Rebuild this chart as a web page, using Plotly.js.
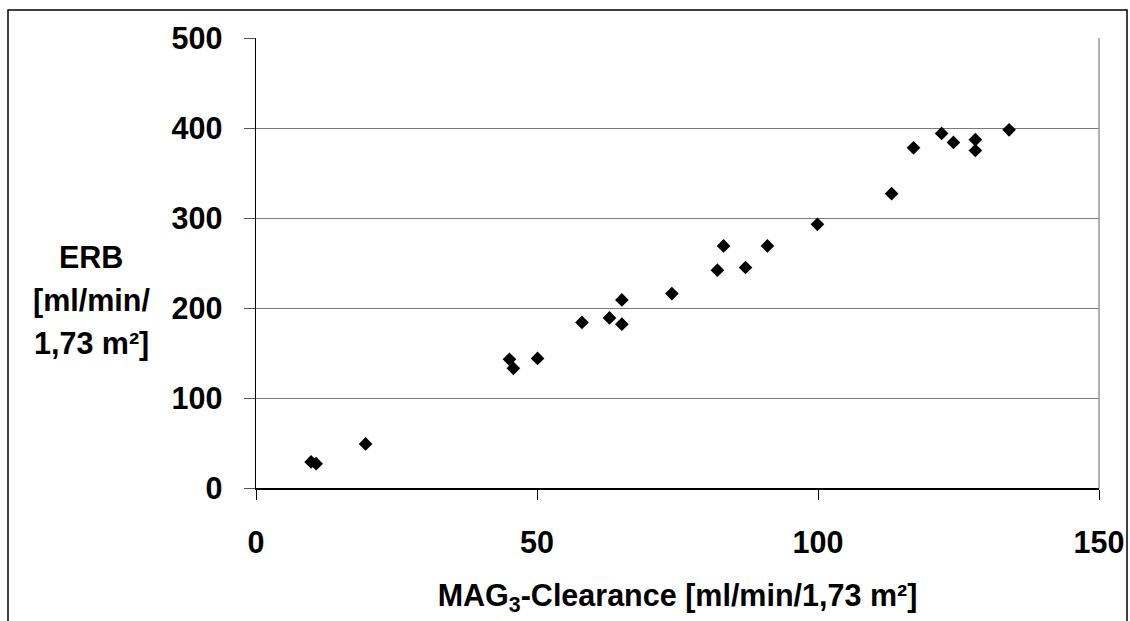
<!DOCTYPE html>
<html>
<head>
<meta charset="utf-8">
<script src="https://cdn.plot.ly/plotly-3.0.1.min.js"></script>
<style>
html,body{margin:0;padding:0;background:#fff;}
#chart{width:1130px;height:621px;}
</style>
</head>
<body>
<div id="chart"></div>
<script>
// MAG3-Clearance [ml/min/1,73 m²]
const mag3Clearance = [9.8, 10.7, 19.5, 45.1, 45.8, 50.1, 58.0, 62.9, 65.1, 65.1,
  74.0, 82.1, 83.2, 87.1, 91.0, 99.9, 113.1, 117.0, 122.0, 124.1, 128.0, 128.0, 134.0];
// ERB [ml/min/1,73 m²]
const erb = [29, 27, 49, 143, 133, 144, 184, 189, 182, 209,
  216, 242, 269, 245, 269, 293, 327, 378, 394, 384, 387, 375, 398];

const xTicks = [0, 50, 100, 150];
const yTicks = [0, 100, 200, 300, 400, 500];
const yTitleLines = ['ERB', '[ml/min/', '1,73 m²]'];

const FONT = 'Liberation Sans, Arial, sans-serif';
const FS = 30.5;

const trace = {
  type: 'scatter',
  mode: 'markers',
  x: mag3Clearance,
  y: erb,
  marker: {symbol: 'diamond', size: 10.5, color: '#000000', line: {width: 0}},
  hoverinfo: 'x+y'
};

const layout = {
  width: 1130,
  height: 621,
  margin: {l: 256, r: 31, t: 38, b: 133, pad: 0},
  paper_bgcolor: '#ffffff',
  plot_bgcolor: '#ffffff',
  showlegend: false,
  font: {family: FONT, color: '#000', size: FS},
  xaxis: {
    range: [0, 150],
    tickvals: xTicks,
    ticktext: xTicks.map(String),
    showgrid: false,
    zeroline: false,
    showline: true,
    linecolor: '#000',
    linewidth: 1.5,
    ticks: 'outside',
    ticklen: 10,
    tickwidth: 1,
    tickcolor: '#000',
    ticklabelstandoff: 17,
    tickfont: {family: FONT, size: FS, color: '#000', weight: 'bold'},
    title: {
      text: 'MAG<sub>3</sub>-Clearance [ml/min/1,73 m²]',
      font: {family: FONT, size: FS, color: '#000', weight: 'bold'},
      standoff: 26
    },
    fixedrange: true
  },
  yaxis: {
    range: [0, 500],
    tickvals: yTicks,
    ticktext: yTicks.map(String),
    showgrid: true,
    gridcolor: '#7a7a7a',
    gridwidth: 1,
    zeroline: false,
    showline: true,
    linecolor: '#000',
    linewidth: 1.5,
    ticks: 'outside',
    ticklen: 11,
    tickwidth: 1,
    tickcolor: '#555',
    ticklabelstandoff: 15,
    tickfont: {family: FONT, size: FS, color: '#000', weight: 'bold'},
    fixedrange: true
  },
  shapes: [
    {type: 'line', xref: 'paper', yref: 'paper', x0: 1, x1: 1, y0: 0, y1: 1,
     line: {color: '#9a9a9a', width: 1.5}},
    {type: 'rect', xref: 'paper', yref: 'paper',
     x0: (8 - 256) / 843, x1: (1127 - 256) / 843,
     y0: -0.5, y1: (488 - 10) / 450,
     line: {color: '#000', width: 1.5}, fillcolor: 'rgba(0,0,0,0)', layer: 'below'}
  ],
  annotations: yTitleLines.map((t, i) => ({
    text: t,
    xref: 'paper', yref: 'paper',
    x: (91 - 256) / 843, y: (488 - (257 + 43 * i)) / 450,
    xanchor: 'center', yanchor: 'middle',
    showarrow: false,
    font: {family: FONT, size: FS, color: '#000', weight: 'bold'}
  }))
};

Plotly.newPlot('chart', [trace], layout, {displayModeBar: false, staticPlot: true});
</script>
</body>
</html>
